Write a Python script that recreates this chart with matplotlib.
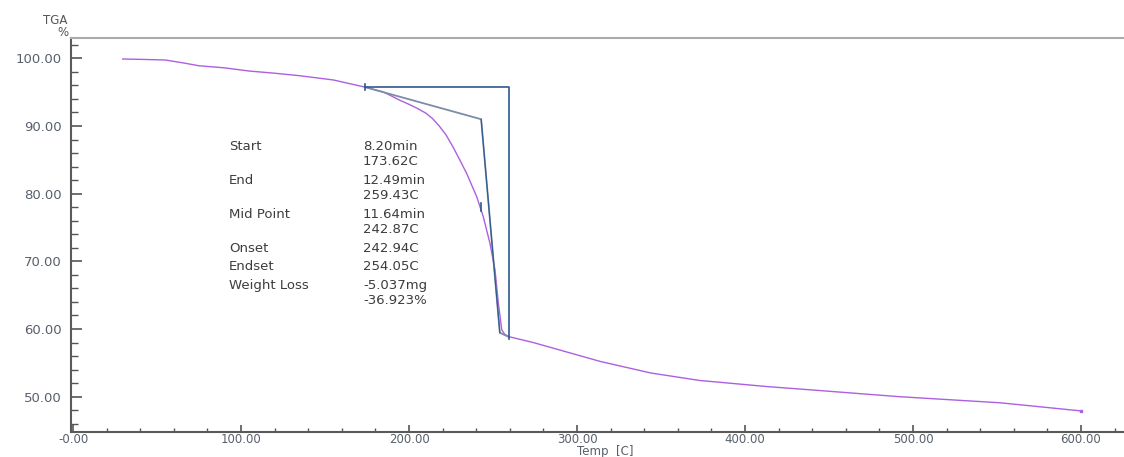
import matplotlib
matplotlib.use("Agg")
import matplotlib.pyplot as plt
from matplotlib.ticker import MultipleLocator, FixedLocator, FixedFormatter

plt.rcParams['font.family'] = ['DejaVu Sans']

# TGA curve: temperature (C) vs. weight (%)
temp = [29.6, 40, 55, 65, 75, 90, 105, 120, 135, 155, 173.6, 185, 194.6, 200,
        205, 210, 214, 218, 222, 226.2, 230, 234.3, 240.3, 244.2, 248.2,
        251.2, 253.2, 255.2, 257, 260, 274, 294, 314, 344, 373, 413, 445, 492,
        552, 600]
weight = [99.9, 99.85, 99.75, 99.35, 98.9, 98.6, 98.12, 97.8, 97.43, 96.8,
          95.76, 95.0, 93.8, 93.2, 92.6, 91.9, 91.1, 90.0, 88.7, 86.9, 85.1,
          83.0, 79.55, 76.6, 72.65, 68.7, 63.8, 59.9, 59.2, 58.84, 58.0, 56.6,
          55.2, 53.5, 52.4, 51.5, 50.9, 50.0, 49.1, 47.9]

# Step analysis results
start_t, end_t = 173.62, 259.43
mid_t, mid_w = 242.87, 78.0
onset_t, endset_t = 242.94, 254.05
start_w = 95.76
loss_pct = 36.923
end_w = start_w - loss_pct
onset_w, endset_w = 91.0, 59.45

labels = ["Start", "", "End", "", "Mid Point", "", "Onset", "Endset", "Weight Loss", ""]
values = ["8.20min", "173.62C", "12.49min", "259.43C", "11.64min", "242.87C",
          "242.94C", "254.05C", "-5.037mg", "-36.923%"]

x_ticks = [0, 100, 200, 300, 400, 500, 600]
x_tick_labels = ["-0.00", "100.00", "200.00", "300.00", "400.00", "500.00", "600.00"]
y_ticks = [50, 60, 70, 80, 90, 100]
y_tick_labels = ["50.00", "60.00", "70.00", "80.00", "90.00", "100.00"]

W, H = 1124, 457
fig = plt.figure(figsize=(W / 100, H / 100), dpi=100)
ax = fig.add_axes([70.5 / W, 24.7 / H, (W - 70.5) / W, (418.7 - 24.7) / H])

curve_col = "#ad5fe0"
dark_blue = "#2f5a8e"
grey_blue = "#7b8ca6"

ax.plot(temp, weight, color=curve_col, lw=1.0, zorder=3)
ax.plot([temp[-1]], [weight[-1]], marker="s", ms=2, color=curve_col, zorder=3)

# tangent construction
ax.plot([start_t, onset_t, endset_t, end_t], [start_w, onset_w, endset_w, end_w],
        color=grey_blue, lw=1.3, zorder=4)
ax.plot([onset_t, endset_t], [onset_w, endset_w], color=dark_blue, lw=0.8, zorder=5)
# step box
ax.plot([start_t, end_t, end_t], [start_w, start_w, end_w - 0.3],
        color=dark_blue, lw=1.2, zorder=4)
# markers
ax.plot([start_t, start_t], [start_w - 0.45, start_w + 0.45], color=dark_blue, lw=1.2, zorder=6)
ax.plot([mid_t, mid_t], [mid_w - 0.6, mid_w + 0.6], color=dark_blue, lw=1.2, zorder=6)

# result text block
row_y = [146, 161.7, 180, 195.7, 214.3, 230, 248.3, 266.7, 285.7, 301]
for lab, val, py in zip(labels, values, row_y):
    fy = 1 - py / H
    if lab:
        fig.text(229 / W, fy, lab, fontsize=9.5, color="#3c3c3c", va="center", ha="left")
    fig.text(363 / W, fy, val, fontsize=9.5, color="#3c3c3c", va="center", ha="left")

ax.set_xlim(-1.5, 625.6)
ax.set_ylim(44.74, 102.96)

ax.xaxis.set_major_locator(FixedLocator(x_ticks))
ax.xaxis.set_major_formatter(FixedFormatter(x_tick_labels))
ax.xaxis.set_minor_locator(MultipleLocator(20))
ax.yaxis.set_major_locator(FixedLocator(y_ticks))
ax.yaxis.set_major_formatter(FixedFormatter(y_tick_labels))
ax.yaxis.set_minor_locator(MultipleLocator(2))

tick_col = "#555555"
label_col = "#58606c"
ax.tick_params(axis="x", which="major", direction="in", length=5, width=1.2,
               color=tick_col, labelsize=8.5, labelcolor=label_col, pad=0.5)
ax.tick_params(axis="x", which="minor", direction="in", length=3, width=1.0, color=tick_col)
ax.tick_params(axis="y", which="major", direction="in", length=8, width=1.2,
               color=tick_col, labelsize=9.5, labelcolor=label_col, pad=6.5)
ax.tick_params(axis="y", which="minor", direction="in", length=5, width=1.0, color=tick_col)

for side in ("left", "bottom"):
    ax.spines[side].set_color("#5a5a5a")
    ax.spines[side].set_linewidth(1.5)
ax.spines["top"].set_color("#ababab")
ax.spines["top"].set_linewidth(1.5)
ax.spines["right"].set_visible(False)

fig.text(55 / W, 1 - 20 / H, "TGA", fontsize=8.5, color="#555555", ha="center", va="center")
fig.text(63 / W, 1 - 32 / H, "%", fontsize=8.5, color="#555555", ha="center", va="center")
fig.text(605 / W, 1 - 452 / H, "Temp  [C]", fontsize=8.5, color=label_col, ha="center", va="center")

fig.savefig("out.png", dpi=100)
